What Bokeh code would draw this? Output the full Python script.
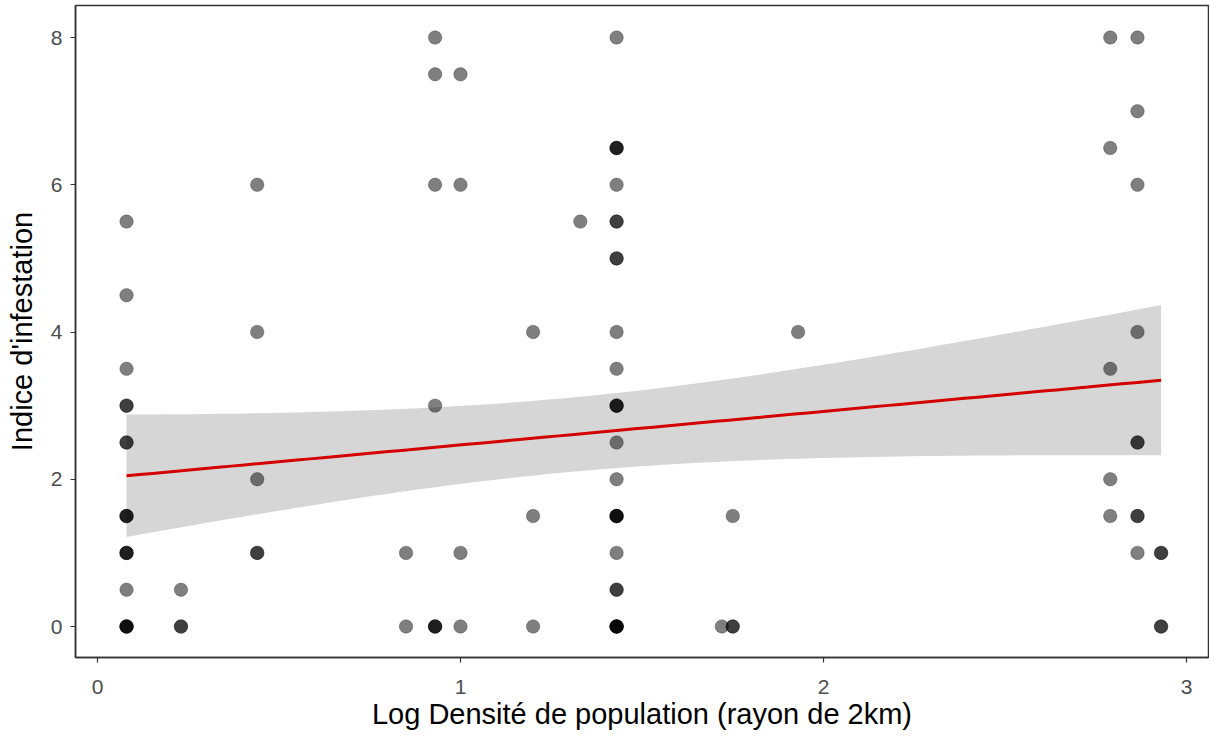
import numpy as np
from bokeh.plotting import figure
from bokeh.models import Range1d, FixedTicker, LinearAxis
from bokeh.embed import file_html
from bokeh.resources import INLINE

# observations (repeated values = overlapping points)
log_density = (
    [0.08] * 18 + [0.23] * 3 + [0.44] * 5 + [0.85] * 2 + [0.93] * 7 + [1.0] * 4 +
    [1.20] * 3 + [1.33] * 1 + [1.43] * 28 + [1.72] * 1 + [1.75] * 3 + [1.93] * 1 +
    [2.79] * 5 + [2.865] * 9 + [2.93] * 4
)
infestation = (
    [5.5, 4.5, 3.5, 3, 3, 2.5, 2.5, 1.5, 1.5, 1.5, 1, 1, 1, 0.5, 0, 0, 0, 0] +
    [0.5, 0, 0] +
    [6, 4, 2, 1, 1] +
    [1, 0] +
    [8, 7.5, 6, 3, 0, 0, 0] +
    [7.5, 6, 1, 0] +
    [4, 1.5, 0] +
    [5.5] +
    [8, 6.5, 6.5, 6.5, 6, 5.5, 5.5, 5, 5, 4, 3.5, 3, 3, 3, 2.5, 2, 1.5, 1.5, 1.5, 1.5,
     1, 0.5, 0.5, 0, 0, 0, 0, 0] +
    [0] +
    [1.5, 0, 0] +
    [4] +
    [8, 6.5, 3.5, 2, 1.5] +
    [8, 7, 6, 4, 2.5, 2.5, 1.5, 1.5, 1] +
    [1, 1, 0, 0]
)
x_ticks = [0, 1, 2, 3]
y_ticks = [0, 2, 4, 6, 8]

x = np.array(log_density, dtype=float)
y = np.array(infestation, dtype=float)

# linear model fit with 95% confidence band (geom_smooth(method="lm"))
n = len(x)
slope, intercept = np.polyfit(x, y, 1)
resid = y - (intercept + slope * x)
s2 = np.sum(resid ** 2) / (n - 2)
xbar = x.mean()
sxx = np.sum((x - xbar) ** 2)
xs = np.linspace(x.min(), x.max(), 80)
fit = intercept + slope * xs
se = np.sqrt(s2 * (1.0 / n + (xs - xbar) ** 2 / sxx))
tq = 1.986
lower = fit - tq * se
upper = fit + tq * se

p = figure(width=1209, height=734, output_backend="svg", toolbar_location=None,
           x_range=Range1d(-0.0606, 3.0606), y_range=Range1d(-0.421, 8.435),
           min_border_left=75, min_border_right=1, min_border_top=5, min_border_bottom=77,
           x_axis_location=None, y_axis_location=None)
p.background_fill_color = "white"
p.border_fill_color = "white"
p.xgrid.visible = False
p.ygrid.visible = False
p.outline_line_color = "#333333"
p.outline_line_width = 1.5

p.varea(x=xs, y1=lower, y2=upper, fill_color="#D6D6D6", fill_alpha=1.0)
p.line(xs, fit, line_color="#D40000", line_width=3)
p.scatter(x, y, size=13.5, fill_color="black", fill_alpha=0.5,
          line_color="black", line_alpha=0.25, line_width=1)

label_font = "Liberation Sans"
xa = LinearAxis(ticker=FixedTicker(ticks=x_ticks),
                axis_label="Log Densité de population (rayon de 2km)")
ya = LinearAxis(ticker=FixedTicker(ticks=y_ticks), axis_label="Indice d'infestation")
for ax in (xa, ya):
    ax.axis_line_color = "#333333"
    ax.axis_line_width = 1.5
    ax.major_tick_line_color = "#333333"
    ax.major_tick_line_width = 1.2
    ax.major_tick_out = 5
    ax.major_tick_in = 0
    ax.minor_tick_line_color = None
    ax.major_label_text_font = label_font
    ax.major_label_text_font_size = "21px"
    ax.major_label_text_color = "#4D4D4D"
    ax.axis_label_text_font = label_font
    ax.axis_label_text_font_size = "29px"
    ax.axis_label_text_font_style = "normal"
    ax.axis_label_text_color = "black"
xa.major_label_standoff = 17
xa.axis_label_standoff = 1
ya.major_label_standoff = 8
ya.axis_label_standoff = 10
p.add_layout(xa, "below")
p.add_layout(ya, "left")

open("out.html", "w").write(file_html(p, INLINE))
